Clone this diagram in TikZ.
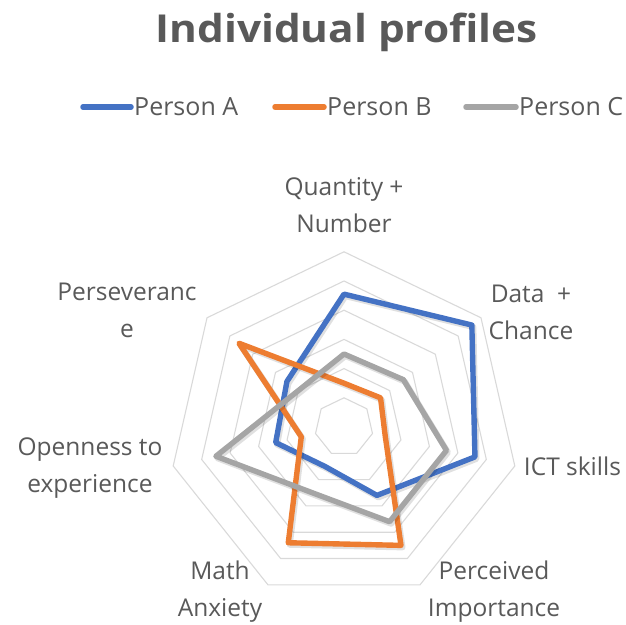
\documentclass[tikz,border=0pt]{standalone}
\usepackage{fontspec}
\setmainfont{Open Sans}
\usepackage{xcolor}
\usepackage{tikz}
\usetikzlibrary{positioning, calc}
\definecolor{rdblue}{RGB}{68,114,196}
\definecolor{rdorange}{RGB}{237,125,49}
\definecolor{rdgray}{RGB}{165,165,165}
\definecolor{rdgrid}{RGB}{217,217,217}
\definecolor{rdtext}{RGB}{89,89,89}

\begin{document}
\begin{tikzpicture}[x=1pt, y=1pt,
  gridline/.style={draw=rdgrid, line width=1.1pt},
  serie/.style={line width=5.4pt, line join=round, draw=#1},
  shade/.style={line width=6pt, line join=round, draw=black, opacity=0.12},
  axlabel/.style={text=rdtext, align=center, inner sep=0pt,
    font=\fontsize{24.5}{37}\selectfont},
  legtext/.style={text=rdtext, inner sep=0pt, anchor=base west,
    font=\fontsize{25}{30}\selectfont},
  legline/.style={line width=5.5pt, line cap=round, draw=#1}]
\useasboundingbox (0,0) rectangle (626,624);
\def\u{29.2pt}
% Title
\node[text=rdtext, inner sep=0pt, anchor=base, xscale=1.1,
  font=\fontsize{38.5}{44}\selectfont\bfseries] (title) at (346.7,581.7) {Individual profiles};
% Legend
\node[legtext] (legA) at (134,508) {Person A};
\node[legtext] (legB) at (327,508) {Person B};
\node[legtext] (legC) at (519,508) {Person C};
\coordinate (la) at (83,517);
\coordinate (lb) at (275,517);
\coordinate (lc) at (466,517);
\draw[legline=rdblue] (la) -- ([xshift=-3pt]legA.west |- la);
\draw[legline=rdorange] (lb) -- ([xshift=-3pt]legB.west |- lb);
\draw[legline=rdgray] (lc) -- ([xshift=-3pt]legC.west |- lc);
% Grid
\begin{scope}[shift={(344,197)}]
\foreach \r in {1,...,6}
  \draw[gridline] (90:\r*\u) \foreach \k in {1,...,6} { -- (90-\k*360/7:\r*\u) } -- cycle;
% Person A
\draw[shade, shift={(1.5,-2)}] (90:4.55*\u) -- (38.57:5.6*\u) -- (-12.86:4.6*\u) -- (-64.29:2.6*\u)
  -- (-115.71:1.5*\u) -- (-167.14:2.4*\u) -- (141.43:2.5*\u) -- cycle;
\draw[serie=rdblue] (90:4.55*\u) -- (38.57:5.6*\u) -- (-12.86:4.6*\u) -- (-64.29:2.6*\u)
  -- (-115.71:1.5*\u) -- (-167.14:2.4*\u) -- (141.43:2.5*\u) -- cycle;
% Person B
\draw[shade, shift={(1.5,-2)}] (90:1.5*\u) -- (38.57:1.6*\u) -- (-12.86:1.45*\u) -- (-64.29:4.5*\u)
  -- (-115.71:4.4*\u) -- (-167.14:1.5*\u) -- (141.43:4.6*\u) -- cycle;
\draw[serie=rdorange] (90:1.5*\u) -- (38.57:1.6*\u) -- (-12.86:1.45*\u) -- (-64.29:4.5*\u)
  -- (-115.71:4.4*\u) -- (-167.14:1.5*\u) -- (141.43:4.6*\u) -- cycle;
% Person C
\draw[shade, shift={(1.5,-2)}] (90:2.5*\u) -- (38.57:2.6*\u) -- (-12.86:3.6*\u) -- (-64.29:3.6*\u)
  -- (-115.71:2.5*\u) -- (-167.14:4.5*\u) -- (141.43:2.0*\u) -- cycle;
\draw[serie=rdgray] (90:2.5*\u) -- (38.57:2.6*\u) -- (-12.86:3.6*\u) -- (-64.29:3.6*\u)
  -- (-115.71:2.5*\u) -- (-167.14:4.5*\u) -- (141.43:2.0*\u) -- cycle;
\end{scope}
% Labels
\node[axlabel] (qn) at (344,419) {Quantity +\\Number};
\node[axlabel] (dc) at (531,312) {Data~~+\\Chance};
\node[axlabel] (ict) at (572.5,158) {ICT skills};
\node[axlabel] (pi) at (494,32.5) {Perceived\\Importance};
\node[axlabel] (ma) at (220,32.5) {Math\\Anxiety};
\node[axlabel] (oe) at (90,155.5) {Openness to\\experience};
\node[axlabel] (pe) at (127,314) {Perseveranc\\e};
\end{tikzpicture}
\end{document}
